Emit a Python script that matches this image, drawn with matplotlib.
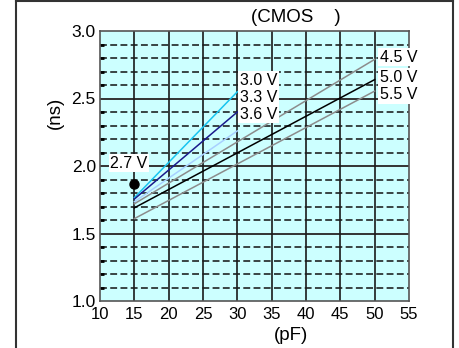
import matplotlib
matplotlib.use("Agg")
import matplotlib.pyplot as plt
from matplotlib.lines import Line2D

plt.rcParams['font.family'] = ['Liberation Sans', 'DejaVu Sans']

# Data
voltages = ["3.0 V", "3.3 V", "3.6 V", "4.5 V", "5.0 V", "5.5 V"]
x_start = [15, 15, 15, 15, 15, 15]
x_end = [30, 30, 30, 50, 50, 50]
y_start = [1.765, 1.755, 1.735, 1.72, 1.69, 1.61]
y_end = [2.55, 2.40, 2.26, 2.79, 2.64, 2.555]
point_label = "2.7 V"
point_x = [15]
point_y = [1.864]
x_ticks = [10, 15, 20, 25, 30, 35, 40, 45, 50, 55]
y_ticks = [1.0, 1.5, 2.0, 2.5, 3.0]

colors = ["#18C4F0", "#1A1A8C", "#A8D0FF", "#8C8C8C", "#000000", "#8C8C8C"]
label_pos = [(30.4, 2.637), (30.4, 2.511), (30.4, 2.385),
             (50.8, 2.807), (50.8, 2.659), (50.8, 2.526)]

fig = plt.figure(figsize=(4.59, 3.48), dpi=100)
ax = fig.add_axes([100/459, 1-301/348, 309/459, 270/348])
ax.set_facecolor("#CCFFFF")
ax.set_xlim(10, 55)
ax.set_ylim(1.0, 3.0)

grid_c = "#333333"
# minor dashed horizontals
for k in range(11, 30):
    v = k / 10
    if k % 5 == 0:
        continue
    ax.axhline(v, color="#111111", lw=1.1, ls=(0, (4.5, 2.2)), zorder=1)
for v in [1.5, 2.0, 2.5]:
    ax.axhline(v, color=grid_c, lw=1.4, zorder=1)
for v in [15, 20, 25, 30, 35, 40, 45, 50]:
    ax.axvline(v, color="#1a1a1a", lw=1.2, zorder=1)

for i, name in enumerate(voltages):
    ax.plot([x_start[i], x_end[i]], [y_start[i], y_end[i]], color=colors[i], lw=1.1, zorder=3)
    ax.text(label_pos[i][0], label_pos[i][1], name, fontsize=11.5, va="center", ha="left",
            bbox=dict(facecolor="white", edgecolor="none", pad=1.3), zorder=4, clip_on=False)

ax.plot(point_x, point_y, "o", color="black", ms=6.5, zorder=5)
ax.text(11.5, 2.022, point_label, fontsize=11.5, va="center", ha="left",
        bbox=dict(facecolor="white", edgecolor="none", pad=1.3), zorder=4)

ax.set_xticks(x_ticks)
ax.set_xticklabels([str(t) for t in x_ticks], fontsize=12)
ax.set_yticks(y_ticks)
ax.set_yticklabels([f"{t:.1f}" for t in y_ticks], fontsize=12.5)
ax.set_yticks([k/10 for k in range(11, 30) if k % 5], minor=True)
ax.tick_params(axis="x", which="major", length=0, pad=4)
ax.tick_params(axis="y", which="major", length=0, pad=3)
ax.tick_params(axis="y", which="minor", direction="in", length=3, width=2, color="black")
for s in ax.spines.values():
    s.set_color("#555555")
    s.set_linewidth(1.2)

fig.text(296/459, 1-18/348, "(CMOS    )", fontsize=13.5, ha="center", va="center")
fig.text(55/459, 1-113/348, "(ns)", fontsize=13.5, ha="center", va="center", rotation=90)
fig.text(291/459, 1-336/348, "(pF)", fontsize=13.5, ha="center", va="center")

# outer border
fig.add_artist(Line2D([16/459, 16/459], [0, 1-1/348], color="#333333", lw=1.5))
fig.add_artist(Line2D([453/459, 453/459], [0, 1-1/348], color="#333333", lw=1.5))
fig.add_artist(Line2D([16/459, 453/459], [1-1/348, 1-1/348], color="#333333", lw=1.5))

fig.savefig("out.png", dpi=100)
